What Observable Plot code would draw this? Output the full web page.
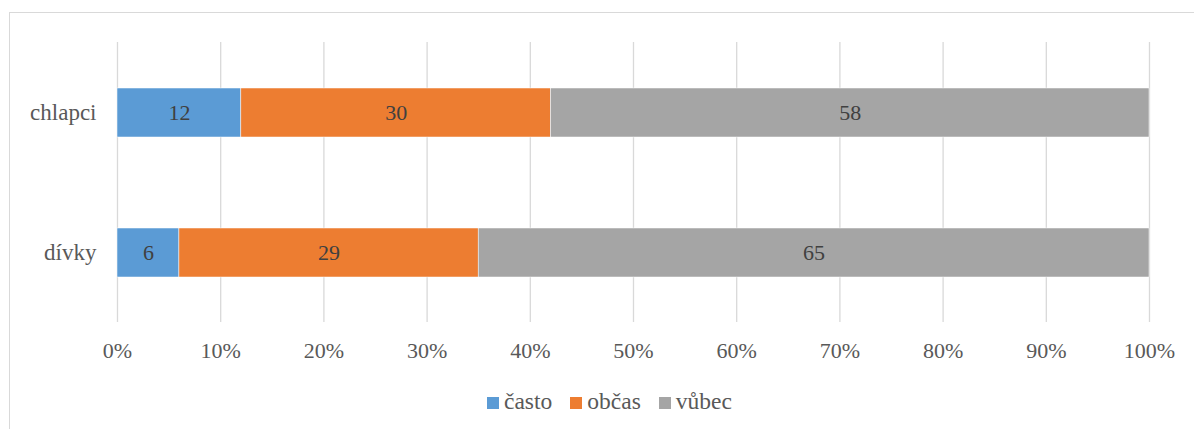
<!DOCTYPE html>
<html>
<head>
<meta charset="utf-8">
<script src="https://cdn.jsdelivr.net/npm/d3@7"></script>
<script src="https://cdn.jsdelivr.net/npm/@observablehq/plot@0.6"></script>
<style>
  html, body { margin: 0; padding: 0; background: #fff; overflow: hidden; width: 1194px; height: 429px; }
  #wrap { position: relative; width: 1194px; height: 429px; }
  #frame { position: absolute; left: 9px; top: 12px; width: 1300px; height: 600px; border: 1.5px solid #d9d9d9; box-sizing: border-box; }
  #chart { position: absolute; left: 0; top: 0; }
  #chart svg, #chart svg text { font-family: "Liberation Serif", "Times New Roman", "DejaVu Serif", serif !important; }
  #legend { position: absolute; left: 487px; top: 388px; display: flex; align-items: center; font-family: "Liberation Serif", "Times New Roman", "DejaVu Serif", serif; font-size: 23.5px; color: #595959; }
  #legend .item { display: flex; align-items: center; margin-right: 18px; }
  #legend .sw { width: 12px; height: 12px; margin-right: 5px; margin-top: 2px; }
</style>
</head>
<body>
<div id="wrap">
  <div id="frame"></div>
  <div id="chart"></div>
  <div id="legend"></div>
</div>
<script>
const groups = ["chlapci", "dívky"];
const series = ["často", "občas", "vůbec"];
const casto = [12, 6];
const obcas = [30, 29];
const vubec = [58, 65];
const colors = ["#5B9BD5", "#ED7D31", "#A5A5A5"];
const xTicks = [0, 10, 20, 30, 40, 50, 60, 70, 80, 90, 100];
const xTickLabels = ["0%", "10%", "20%", "30%", "40%", "50%", "60%", "70%", "80%", "90%", "100%"];

const valuesBySeries = [casto, obcas, vubec];
const data = [];
series.forEach((s, si) => {
  groups.forEach((g, gi) => {
    data.push({group: g, series: s, value: valuesBySeries[si][gi]});
  });
});

const serif = "'Liberation Serif', 'Times New Roman', 'DejaVu Serif', serif";

const chart = Plot.plot({
  width: 1194,
  height: 429,
  marginLeft: 117,
  marginRight: 45,
  marginTop: 42,
  marginBottom: 107,
  style: {background: "transparent", fontFamily: serif},
  x: {domain: [0, 100], ticks: xTicks, tickFormat: (d) => xTickLabels[xTicks.indexOf(d)]},
  y: {domain: groups, paddingInner: 0.65, paddingOuter: 0.325},
  color: {domain: series, range: colors},
  marks: [
    Plot.ruleX(xTicks, {stroke: "#d9d9d9", strokeWidth: 1.3}),
    Plot.barX(data, Plot.stackX({x: "value", y: "group", z: "series", fill: "series", order: series, stroke: "#fff", strokeWidth: 0.5})),
    Plot.text(data, Plot.stackX({x: "value", y: "group", z: "series", order: series, text: (d) => String(d.value), fill: "#404040", fontSize: 22, fontFamily: serif})),
    Plot.axisX({ticks: xTicks, tickFormat: (d) => xTickLabels[xTicks.indexOf(d)], tickSize: 0, tickPadding: 20, fontSize: 22, fontFamily: serif, color: "#595959", label: null}),
    Plot.axisY({tickSize: 0, tickPadding: 21, fontSize: 23, fontFamily: serif, color: "#595959", label: null})
  ]
});
document.getElementById("chart").appendChild(chart);

const legend = document.getElementById("legend");
series.forEach((s, i) => {
  const item = document.createElement("div");
  item.className = "item";
  const sw = document.createElement("span");
  sw.className = "sw";
  sw.style.background = colors[i];
  const t = document.createElement("span");
  t.textContent = s;
  item.appendChild(sw);
  item.appendChild(t);
  legend.appendChild(item);
});
</script>
</body>
</html>
